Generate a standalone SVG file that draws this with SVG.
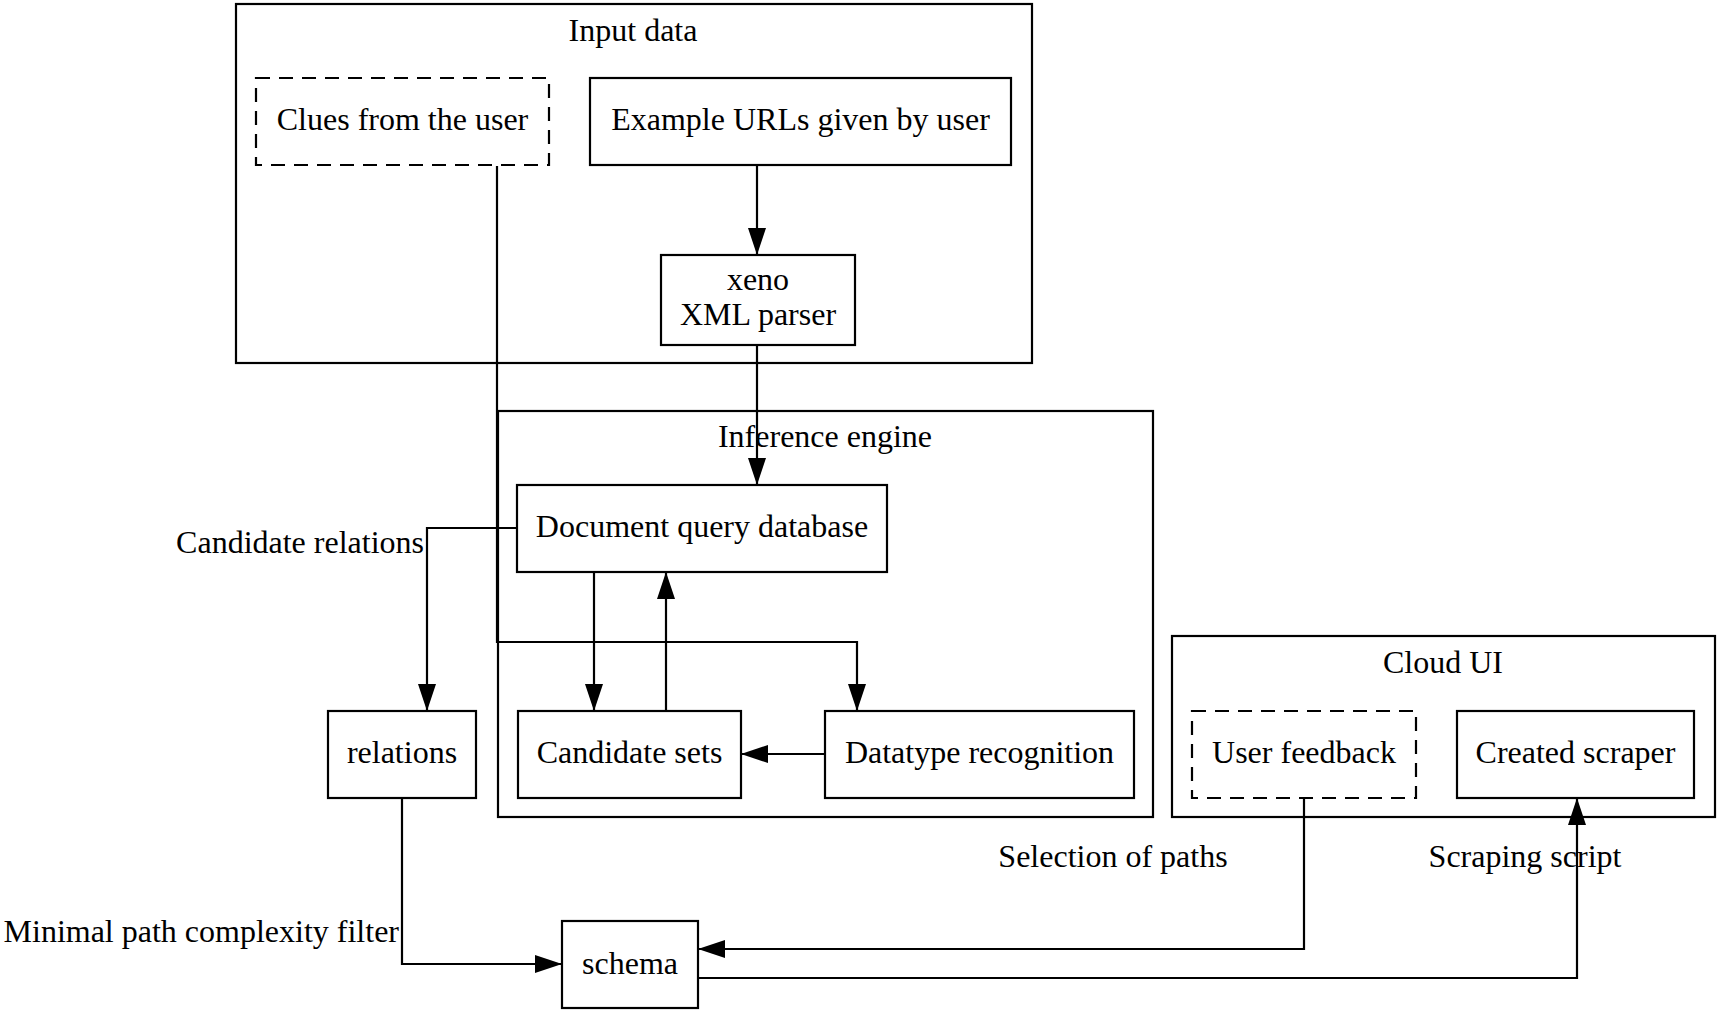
<svg xmlns="http://www.w3.org/2000/svg" width="1721" height="1013" viewBox="0 0 1721 1013">
<style>
  .box { fill: none; stroke: #000; stroke-width: 2.2; }
  .dash { stroke-dasharray: 14,9; }
  .edge { fill: none; stroke: #000; stroke-width: 2.2; marker-end: url(#arrow); }
  text { font-family: "Liberation Serif", "Times New Roman", serif; font-size: 32px; fill: #000; }
  .c { text-anchor: middle; }
</style>
<defs>
  <marker id="arrow" markerUnits="userSpaceOnUse" markerWidth="29" markerHeight="19" refX="27" refY="9" orient="auto">
    <path d="M0,0 L27,9 L0,18 z" fill="#000"/>
  </marker>
</defs>
<rect width="1721" height="1013" fill="#fff"/>

<g id="cluster-input">
  <rect class="box" x="236" y="4" width="796" height="359"/>
  <text class="c" x="633" y="41">Input data</text>
</g>
<g id="cluster-inference">
  <rect class="box" x="498" y="411" width="655" height="406"/>
  <text class="c" x="825" y="447">Inference engine</text>
</g>
<g id="cluster-cloud">
  <rect class="box" x="1172" y="636" width="543" height="181"/>
  <text class="c" x="1443" y="673">Cloud UI</text>
</g>

<g id="edges">
  <path class="edge" d="M757,166 V255"/>
  <path class="edge" d="M757,345 V485"/>
  <path class="edge" d="M497,166 V642 H857 V711"/>
  <path class="edge" d="M594,572 V711"/>
  <path class="edge" d="M666,711 V572"/>
  <path class="edge" d="M825,754 H741"/>
  <path class="edge" d="M517,528 H427 V711"/>
  <path class="edge" d="M402,799 V964 H562"/>
  <path class="edge" d="M1304,798 V949 H698"/>
  <path class="edge" d="M698,978 H1577 V798"/>
  <text x="424" y="553" text-anchor="end">Candidate relations</text>
  <text x="399" y="942" text-anchor="end">Minimal path complexity filter</text>
  <text class="c" x="1113" y="867">Selection of paths</text>
  <text class="c" x="1525" y="867">Scraping script</text>
</g>

<g id="clues">
  <rect class="box dash" x="256" y="78" width="293" height="87"/>
  <text class="c" x="402.5" y="130">Clues from the user</text>
</g>
<g id="example-urls">
  <rect class="box" x="590" y="78" width="421" height="87"/>
  <text class="c" x="800.5" y="130">Example URLs given by user</text>
</g>
<g id="xeno">
  <rect class="box" x="661" y="255" width="194" height="90"/>
  <text class="c" x="758" y="290">xeno</text>
  <text class="c" x="758" y="325">XML parser</text>
</g>
<g id="doc-query-db">
  <rect class="box" x="517" y="485" width="370" height="87"/>
  <text class="c" x="702" y="537">Document query database</text>
</g>
<g id="candidate-sets">
  <rect class="box" x="518" y="711" width="223" height="87"/>
  <text class="c" x="629.5" y="763">Candidate sets</text>
</g>
<g id="datatype-recognition">
  <rect class="box" x="825" y="711" width="309" height="87"/>
  <text class="c" x="979.5" y="763">Datatype recognition</text>
</g>
<g id="relations">
  <rect class="box" x="328" y="711" width="148" height="87"/>
  <text class="c" x="402" y="763">relations</text>
</g>
<g id="schema">
  <rect class="box" x="562" y="921" width="136" height="87"/>
  <text class="c" x="630" y="974">schema</text>
</g>
<g id="user-feedback">
  <rect class="box dash" x="1192" y="711" width="224" height="87"/>
  <text class="c" x="1304" y="763">User feedback</text>
</g>
<g id="created-scraper">
  <rect class="box" x="1457" y="711" width="237" height="87"/>
  <text class="c" x="1575.5" y="763">Created scraper</text>
</g>
</svg>
